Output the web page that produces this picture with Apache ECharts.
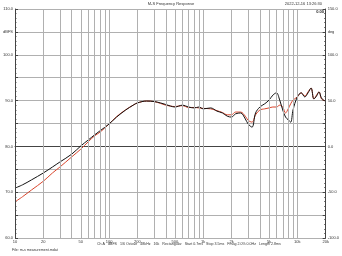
<!DOCTYPE html>
<html><head><meta charset="utf-8">
<script src="https://cdn.jsdelivr.net/npm/echarts@6/dist/echarts.min.js"></script>
<style>html,body{margin:0;padding:0;background:#fff}#c{width:342px;height:256px}</style>
</head><body><div id="c"></div>
<script>
const freqs = [10,12,15,20,25,30,40,50,60,70,80,100,120,150,180,200,250,300,350,400,450,500,600,700,800,900,1000,1200,1400,1600,1800,2000,2200,2500,2800,3000,3300,3600,4000,4500,5000,5500,6000,6500,7000,7500,8000,8500,9000,10000,11000,12000,13000,14000,15000,16000,17000,18000,19000,20000];
const blackDb = [70.9,71.6,72.7,74.2,75.5,76.6,78.3,80.1,81.4,82.5,83.4,84.9,86.4,87.95,89.0,89.5,89.9,89.8,89.5,89.15,88.8,88.6,89.0,88.6,88.4,88.6,88.2,88.4,87.7,87.3,86.6,86.4,87.1,87.3,86.0,84.9,84.2,87.3,88.6,89.3,90.1,91.2,91.7,90.1,87.95,86.4,85.8,85.3,87.95,90.8,91.7,90.8,91.7,92.75,90.35,91.0,91.9,90.6,90.1,89.9];
const redDb = [67.9,69.0,70.5,72.4,74.2,75.5,77.7,79.4,81.0,82.3,83.1,84.9,86.5,88.0,89.0,89.5,89.9,89.8,89.4,89.0,88.8,88.7,88.9,88.5,88.5,88.4,88.3,88.2,87.8,87.4,86.9,86.9,87.5,87.5,86.6,85.7,85.3,86.9,87.95,88.2,88.4,88.6,88.6,89.0,88.6,87.3,88.2,89.3,90.1,90.8,91.7,91.0,91.9,92.75,90.35,91.2,91.9,90.4,90.1,89.9];
const gridFreqs = [20,30,40,50,60,70,80,90,100,200,300,400,500,600,700,800,900,1000,2000,3000,4000,5000,6000,7000,8000,9000,10000];
const labelFreqs = [10,20,50,100,200,500,1000,2000,5000,10000,20000];
const labelTexts = ['10','20','50','100','200','500','1k','2k','5k','10k','20k'];
const leftTicks = {'110':'110.0','105':'dBFS','100':'100.0','90':'90.0','80':'80.0','70':'70.0','60':'60.0'};
const rightTicks = {'150':'150.0','125':'deg','100':'100.0','50':'50.0','0':'0.0','-50':'-50.0','-100':'-100.0'};
const titleText = 'M-S Frequency Response';
const dateText = '2022-12-16 13:26:30';
const infoText = 'Ch A   dBFS   1/6 Octave   48kHz   16k   Rectangular   Start 0.7ms   Stop 3.5ms   Fmag 2.0% 0.0Hz   Length 2.8ms';
const fileText = 'File: m-s measurement.mdat';

const chart = echarts.init(document.getElementById('c'), null, {renderer:'canvas'});
const gridCol = '#b0b0b0';
const mlData = gridFreqs.map(f => ({xAxis: f, label:{show:false}}));
labelFreqs.forEach((f,i) => mlData.push({xAxis: f, lineStyle:{color: (f===10||f===20000)?'#444':gridCol}, label:{show:true, position:'start', formatter: labelTexts[i], fontSize:4, color:'#333', distance:2, fontFamily:'Liberation Sans'}}));

chart.setOption({
  animation:false,
  grid:{left:13, right:16, top:9, bottom:18},
  xAxis:{type:'log', logBase:10, min:10, max:20000,
    axisLine:{show:true, lineStyle:{color:'#444', width:1}},
    axisTick:{show:false}, axisLabel:{show:false}, splitLine:{show:false}},
  yAxis:[
    {type:'value', min:60, max:110, interval:5, position:'left',
     axisLine:{show:true, lineStyle:{color:'#444'}},
     axisTick:{show:true, inside:true, length:3, lineStyle:{color:'#444'}},
     minorTick:{show:true, splitNumber:5, length:1.5, lineStyle:{color:'#666'}},
     axisLabel:{fontSize:4, color:'#333', margin:2, fontFamily:'Liberation Sans', formatter:v => leftTicks[String(v)] || ''},
     splitLine:{show:true, lineStyle:{color:gridCol, width:1}}},
    {type:'value', min:-100, max:150, interval:25, position:'right',
     axisLine:{show:true, lineStyle:{color:'#444'}},
     axisTick:{show:true, inside:true, length:3, lineStyle:{color:'#444'}},
     minorTick:{show:true, splitNumber:5, length:1.5, lineStyle:{color:'#666'}},
     axisLabel:{fontSize:4, color:'#333', margin:2, fontFamily:'Liberation Sans', formatter:v => rightTicks[String(v)] || ''},
     splitLine:{show:false}}
  ],
  graphic:[
    {type:'text', left:'center', top:2, style:{text:titleText, fontSize:4, fill:'#333', fontFamily:'Liberation Sans'}},
    {type:'text', right:20, top:2, style:{text:dateText, fontSize:4, fill:'#333', fontFamily:'Liberation Sans'}},
    {type:'text', left:97, top:242, style:{text:infoText, fontSize:3.6, fill:'#333', fontFamily:'Liberation Sans'}},
    {type:'text', left:12, top:248, style:{text:fileText, fontSize:3.6, fill:'#333', fontFamily:'Liberation Sans'}},
    {type:'text', right:18, top:10, style:{text:'0.00', fontSize:4, fontWeight:'bold', fill:'#222', fontFamily:'Liberation Sans'}}
  ],
  series:[
    {type:'line', data:[], silent:true, z:1,
     markLine:{silent:true, symbol:['none','none'], animation:false,
       lineStyle:{color:gridCol, width:1, type:'solid'}, data: mlData}},
    {type:'line', name:'red', data:freqs.map((f,i)=>[f, redDb[i]]), showSymbol:false, smooth:0.35,
     lineStyle:{color:'#d8452c', width:1}, z:3},
    {type:'line', name:'black', data:freqs.map((f,i)=>[f, blackDb[i]]), showSymbol:false, smooth:0.35,
     lineStyle:{color:'#111', width:1}, z:4}
  ]
});
</script></body></html>
